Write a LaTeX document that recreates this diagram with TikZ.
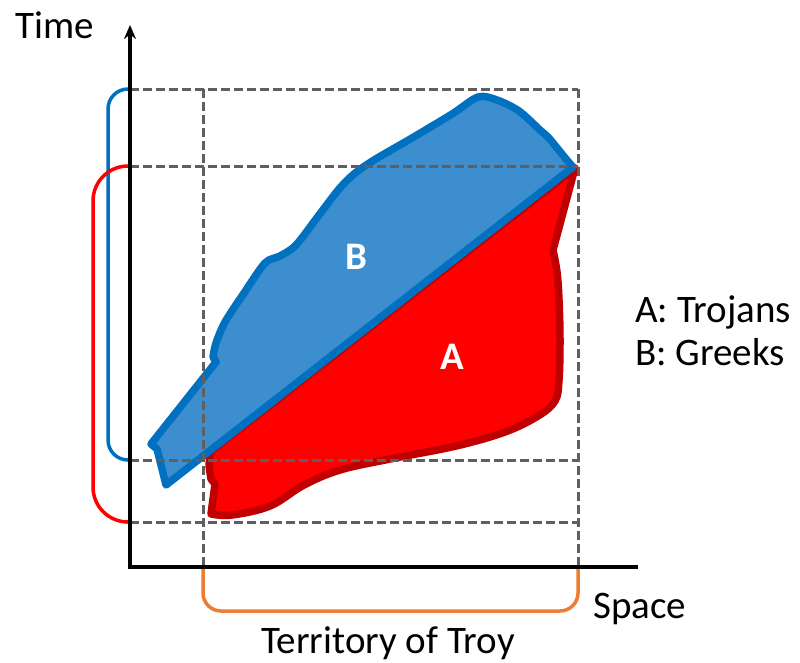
\documentclass[tikz,border=0pt]{standalone}
\usepackage{fontspec}
\setmainfont{Carlito}
\usetikzlibrary{arrows.meta}

\definecolor{troyfill}{RGB}{255,0,0}
\definecolor{troyline}{RGB}{192,0,0}
\definecolor{greekfill}{RGB}{61,142,206}
\definecolor{greekline}{RGB}{0,112,192}
\definecolor{spaceline}{RGB}{237,125,49}
\definecolor{gridgray}{RGB}{95,95,95}

\newcommand{\labelsize}{\fontsize{39}{47}\selectfont}

\tikzset{
  region/.style={line width=7.5pt, line join=round},
  grid line/.style={draw=gridgray, line width=3pt, dash pattern=on 9pt off 4pt},
  bracket/.style={line width=3.5pt},
  axis line/.style={line width=3.5pt, black}
}

\begin{document}
\begin{tikzpicture}[x=1pt, y=-1pt, every node/.style={font=\labelsize, inner sep=0pt}]
\useasboundingbox (0,0) rectangle (800,662);

% marks on the axes
\coordinate (o) at (130,567);
\coordinate (tB0) at (130,89);
\coordinate (tA0) at (130,166);
\coordinate (tB1) at (130,460);
\coordinate (tA1) at (130,522);
\coordinate (s0) at (203,567);
\coordinate (s1) at (578,567);

% A: Trojans
\filldraw[region, fill=troyfill, draw=troyline] (575,168) -- (210,452) -- (209,466) -- (211,479) -- (215,484) -- (211,514)
  -- plot[smooth, tension=0.6] coordinates {(211,514) (232,515) (270,506) (304,485) (340,470) (390,459)
     (456,446) (505,432) (538,416) (555,401) (559,380) (560,340) (559,300) (557,272) (553,250)} -- cycle;

% B: Greeks
\filldraw[region, fill=greekfill, draw=greekline] (573,167) -- (166,485) -- (157,449) -- (151,444) -- (216,362) -- (213,357)
  -- plot[smooth, tension=0.5] coordinates {(213,357) (216,343) (225,322) (244,293) (265,263) (280,256) (296,245)
     (319,215) (339,189) (354,174) (374,160) (412,138) (452,114) (478,97) (497,100) (519,111) (540,130)
     (548,137) (566,159) (573,167)} -- cycle;

% dashed grid
\draw[grid line] (tB0) -- (tB0 -| s1);
\draw[grid line] (tA0) -- (tA0 -| s1);
\draw[grid line] (tB1) -- (tB1 -| s1);
\draw[grid line] (tA1) -- (tA1 -| s1);
\draw[grid line] (s0 |- tB0) -- (s0);
\draw[grid line] (s1 |- tB0) -- (s1);

% brackets
\draw[bracket, greekline, rounded corners=20pt] (tB0) -- ++(-22,0) |- (tB1);
\draw[bracket, troyfill, rounded corners=35pt] (tA0) -- ++(-37,0) |- (tA1);
\draw[bracket, spaceline, rounded corners=18pt] (s0) -- ++(0,44) -| (s1);

% axes
\draw[axis line, -{Stealth[length=14pt, width=12pt]}] (638,567) -- (o) -- (130,25);

% labels
\node[anchor=base west] (time) at (15,38) {Time};
\node[anchor=base west] (space) at (593,618) {Space};
\node[anchor=base] (troy) at (388,653) {Territory of Troy};
\node[anchor=base west] (keyA) at (635,322) {A: Trojans};
\node[anchor=base west] (keyB) at (635,365) {B: Greeks};
\node[text=white, font=\labelsize\bfseries] (labB) at (356,257) {B};
\node[text=white, font=\labelsize\bfseries] (labA) at (452,357) {A};
\end{tikzpicture}
\end{document}
